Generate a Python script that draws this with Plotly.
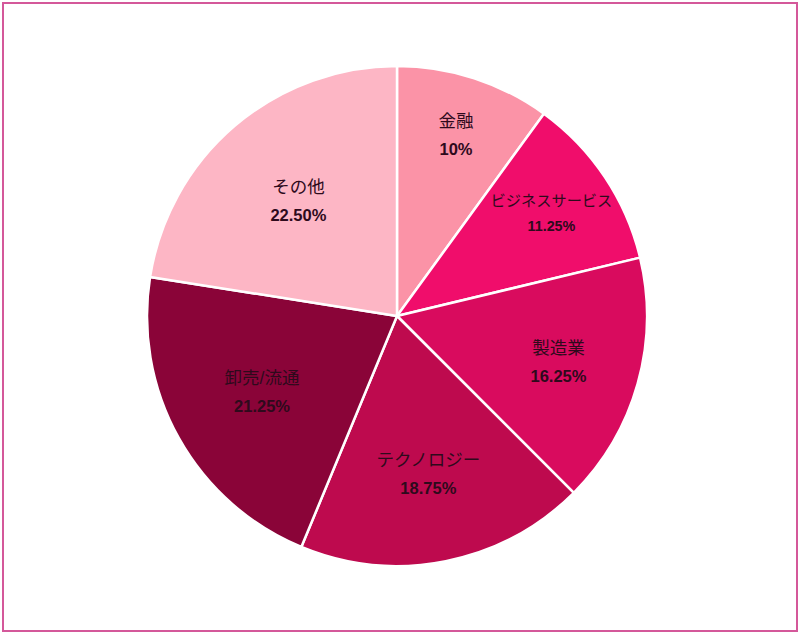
import plotly.graph_objects as go

categories = ["金融", "ビジネスサービス", "製造業", "テクノロジー", "卸売/流通", "その他"]
shares = [10, 11.25, 16.25, 18.75, 21.25, 22.5]
share_labels = ["10%", "11.25%", "16.25%", "18.75%", "21.25%", "22.50%"]
slice_colors = ["#fb93a7", "#f00d6b", "#d90b5e", "#be0a4e", "#8a0438", "#fdb6c5"]

fig = go.Figure(go.Pie(
    labels=categories,
    values=shares,
    customdata=share_labels,
    texttemplate="<span style='font-size:17.5px'>%{label}</span><br>"
                 "<span style='font-size:16.5px'><b>%{customdata}</b></span>",
    textposition="inside",
    insidetextorientation="horizontal",
    sort=False,
    direction="clockwise",
    rotation=0,
    marker=dict(colors=slice_colors, line=dict(color="white", width=2.5)),
    textfont=dict(family="Liberation Sans, Noto Sans CJK JP", size=21.5, color="#2e0a1c"),
    hoverinfo="label+value",
    showlegend=False,
))

fig.update_layout(
    width=800, height=635,
    margin=dict(l=147, r=153, t=66, b=69),
    paper_bgcolor="white",
    plot_bgcolor="white",
    showlegend=False,
    shapes=[dict(type="rect", xref="paper", yref="paper",
                 x0=(3 - 147) / 500, x1=(797 - 147) / 500,
                 y0=(566 - 631) / 500, y1=(566 - 3) / 500,
                 line=dict(color="#d4589a", width=2), fillcolor="rgba(0,0,0,0)")],
)

fig.write_html("out.html", config={"displayModeBar": False},
               post_script="document.body.style.margin='0';")
